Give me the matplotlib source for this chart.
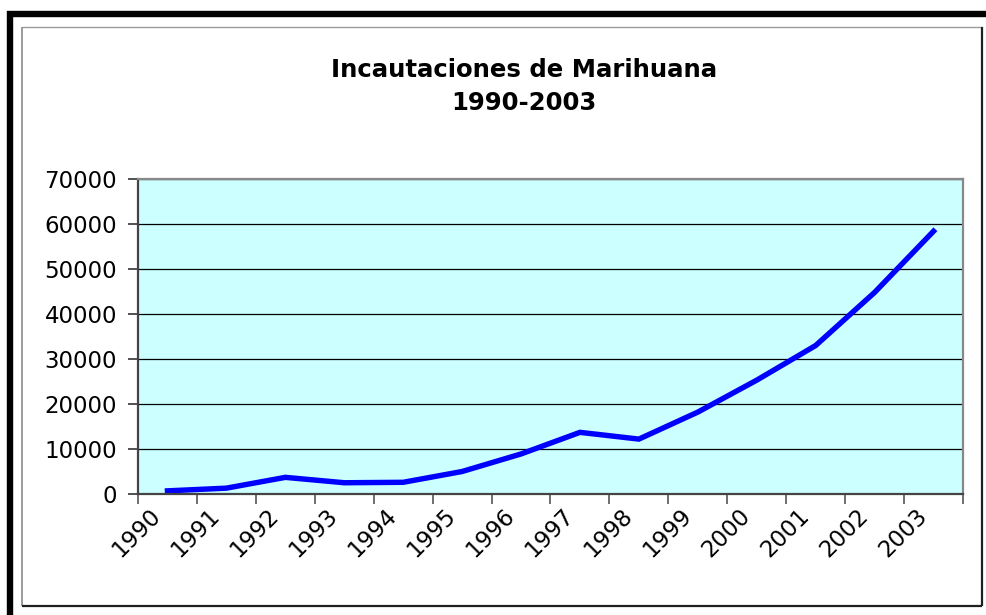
import matplotlib
matplotlib.use("Agg")
import matplotlib.pyplot as plt
import matplotlib.transforms as mtrans
from matplotlib.lines import Line2D
import numpy as np

# data
years = ['1990', '1991', '1992', '1993', '1994', '1995', '1996',
         '1997', '1998', '1999', '2000', '2001', '2002', '2003']
seizures = [700, 1300, 3700, 2500, 2600, 5000, 8900,
            13700, 12200, 18200, 25300, 33000, 44800, 58400]
yticks = [0, 10000, 20000, 30000, 40000, 50000, 60000, 70000]

W, H = 987, 615
fig = plt.figure(figsize=(W / 100, H / 100), dpi=100)
fig.patch.set_facecolor('white')

def px(x, y):
    # pixel coords (top-left origin) to figure fraction
    return x / W, 1 - y / H

# frame: thick black bars top/left, thin inner border
def fline(x0, y0, x1, y1, color, lw):
    a, b = px(x0, y0)
    c, d = px(x1, y1)
    fig.add_artist(Line2D([a, c], [b, d], color=color, lw=lw,
                          transform=fig.transFigure, solid_capstyle='butt'))

fline(7, 14, 987, 14, 'black', 4.6)
fline(10, 11, 10, 615, 'black', 4.6)
fline(22, 27, 982, 27, '#9a9a9a', 1.0)
fline(22, 27, 22, 606, '#8a8a8a', 1.2)
fline(982, 27, 982, 606, '#202020', 1.6)
fline(22, 606, 982, 606, '#202020', 1.6)

# plot area
l, t = px(138, 179)
r, b = px(963, 494)
ax = fig.add_axes([l, b, r - l, t - b])
ax.set_facecolor('#CCFFFF')

x = np.arange(len(years)) + 0.5
ax.plot(x, seizures, color='#0000FF', lw=3.9, solid_joinstyle='miter')

ax.set_xlim(0, len(years))
ax.set_ylim(0, 70000)
ax.set_yticks(yticks)
ax.set_yticklabels([str(v) for v in yticks], fontsize=16.5)
ax.yaxis.grid(True, color='black', lw=0.9)
ax.set_axisbelow(True)

ax.set_xticks(np.arange(len(years) + 1))
ax.set_xticklabels([])
ax.set_xticks(x, minor=True)
ax.set_xticklabels(years, minor=True, rotation=45, ha='right',
                   va='center', rotation_mode='anchor', fontsize=16.5)
ax.tick_params(axis='x', which='minor', length=0, pad=13)
ax.tick_params(axis='x', which='major', length=7, width=1.2, color='#555555')
ax.tick_params(axis='y', length=7, width=1.2, color='#333333', pad=8)

# nudge rotated year labels left
shift = mtrans.ScaledTranslation(-10 / 100, 0, fig.dpi_scale_trans)
for lab in ax.get_xticklabels(minor=True):
    lab.set_transform(lab.get_transform() + shift)

for s in ['left', 'bottom']:
    ax.spines[s].set_color('#444444')
    ax.spines[s].set_linewidth(1.6)
for s in ['top', 'right']:
    ax.spines[s].set_color('#888888')
    ax.spines[s].set_linewidth(1.6)

tx, ty = px(524, 70)
fig.text(tx, ty, 'Incautaciones de Marihuana', ha='center', va='center',
         fontsize=17.6, fontweight='bold')
tx, ty = px(524, 103)
fig.text(tx, ty, '1990-2003', ha='center', va='center',
         fontsize=17.6, fontweight='bold')

fig.savefig('out.png', dpi=100)
